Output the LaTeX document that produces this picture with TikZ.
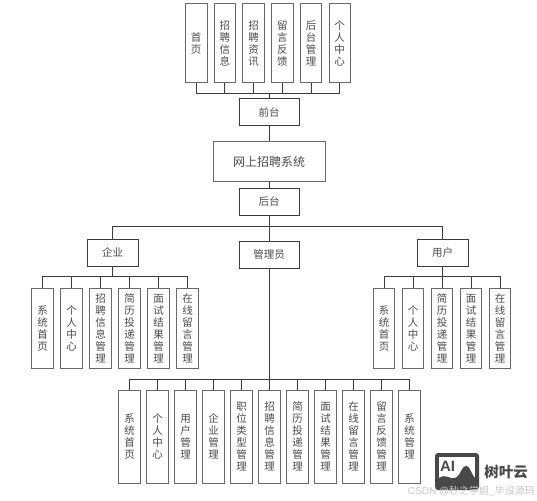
\documentclass[tikz,border=0pt]{standalone}
\usepackage{fontspec}
\setmainfont{Noto Sans CJK SC}
\setsansfont{Liberation Sans}
\usetikzlibrary{positioning}
\definecolor{boxline}{RGB}{105,105,105}
\definecolor{headline}{RGB}{60,60,60}
\definecolor{ink}{RGB}{75,75,75}
\definecolor{logo}{RGB}{72,72,72}

\tikzset{
  tallbox/.style={draw=boxline, line width=0.9pt, inner sep=0pt, minimum width=21.5pt, align=center,
    text=ink, font=\fontsize{10.5}{12}\selectfont},
  headbox/.style={draw=headline, line width=1pt, inner sep=0pt, minimum width=60pt, minimum height=27pt,
    text=ink, font=\fontsize{10.5}{12}\selectfont},
  link/.style={draw=headline, line width=1pt}
}

\begin{document}
\begin{tikzpicture}[x=1pt, y=1pt, node distance=6.6pt]
  \useasboundingbox (0,0) rectangle (537,-500);

  % front end
  \node[headbox] (front) at (269,-112) {前台};
  \node[tallbox, minimum height=79.5pt] (f1) at (196.2,-43.2) {首\\页};
  \node[tallbox, minimum height=79.5pt, right=6.3pt of f1] (f2) {招\\聘\\信\\息};
  \node[tallbox, minimum height=79.5pt, right=6.3pt of f2] (f3) {招\\聘\\资\\讯};
  \node[tallbox, minimum height=79.5pt, right=6.3pt of f3] (f4) {留\\言\\反\\馈};
  \node[tallbox, minimum height=79.5pt, right=6.3pt of f4] (f5) {后\\台\\管\\理};
  \node[tallbox, minimum height=79.5pt, right=6.3pt of f5] (f6) {个\\人\\中\\心};

  % centre column
  \node[draw=boxline, line width=0.9pt, minimum width=112pt, minimum height=40pt, text=ink,
    font=\fontsize{12}{14}\selectfont, below=15pt of front] (system) {网上招聘系统};
  \node[headbox, below=6pt of system] (back) {后台};
  \node[headbox, below=25pt of back] (admin) {管理员};
  \node[headbox, minimum width=51pt] (company) at (112.5,-252.5) {企业};
  \node[headbox, minimum width=51pt] (user) at (442.5,-252.5) {用户};

  % company
  \node[tallbox, minimum height=79.5pt] (c1) at (42.5,-328.5) {系\\统\\首\\页};
  \node[tallbox, minimum height=79.5pt, right=of c1] (c2) {个\\人\\中\\心};
  \node[tallbox, minimum height=79.5pt, right=of c2] (c3) {招\\聘\\信\\息\\管\\理};
  \node[tallbox, minimum height=79.5pt, right=of c3] (c4) {简\\历\\投\\递\\管\\理};
  \node[tallbox, minimum height=79.5pt, right=of c4] (c5) {面\\试\\结\\果\\管\\理};
  \node[tallbox, minimum height=79.5pt, right=of c5] (c6) {在\\线\\留\\言\\管\\理};

  % user
  \node[tallbox, minimum height=79.5pt] (u1) at (384,-328.5) {系\\统\\首\\页};
  \node[tallbox, minimum height=79.5pt, right=of u1] (u2) {个\\人\\中\\心};
  \node[tallbox, minimum height=79.5pt, right=of u2] (u3) {简\\历\\投\\递\\管\\理};
  \node[tallbox, minimum height=79.5pt, right=of u3] (u4) {面\\试\\结\\果\\管\\理};
  \node[tallbox, minimum height=79.5pt, right=of u4] (u5) {在\\线\\留\\言\\管\\理};

  % admin
  \node[tallbox, minimum height=93pt] (a1) at (129.5,-436.5) {系\\统\\首\\页};
  \node[tallbox, minimum height=93pt, right=5.6pt of a1] (a2) {个\\人\\中\\心};
  \node[tallbox, minimum height=93pt, right=5.6pt of a2] (a3) {用\\户\\管\\理};
  \node[tallbox, minimum height=93pt, right=5.6pt of a3] (a4) {企\\业\\管\\理};
  \node[tallbox, minimum height=93pt, right=5.6pt of a4] (a5) {职\\位\\类\\型\\管\\理};
  \node[tallbox, minimum height=93pt, right=5.6pt of a5] (a6) {招\\聘\\信\\息\\管\\理};
  \node[tallbox, minimum height=93pt, right=5.6pt of a6] (a7) {简\\历\\投\\递\\管\\理};
  \node[tallbox, minimum height=93pt, right=5.6pt of a7] (a8) {面\\试\\结\\果\\管\\理};
  \node[tallbox, minimum height=93pt, right=5.6pt of a8] (a9) {在\\线\\留\\言\\管\\理};
  \node[tallbox, minimum height=93pt, right=5.6pt of a9] (a10) {留\\言\\反\\馈\\管\\理};
  \node[tallbox, minimum height=93pt, right=5.6pt of a10] (a11) {系\\统\\管\\理};

  % connectors
  \foreach \i in {1,...,6}
    \draw[link] (f\i.south) -- ++(0,-10) -| (front.north);
  \draw[link] (front) -- (system);
  \draw[link] (system) -- (back);
  \draw[link] (back) -- (admin);
  \draw[link] (back.south) -- ++(0,-10.5) -| (company.north);
  \draw[link] (back.south) -- ++(0,-10.5) -| (user.north);
  \foreach \i in {1,...,6}
    \draw[link] (c\i.north) -- ++(0,12) -| (company.south);
  \foreach \i in {1,...,5}
    \draw[link] (u\i.north) -- ++(0,12) -| (user.south);
  \foreach \i in {1,...,11}
    \draw[link] (a\i.north) -- ++(0,10.5) -| (admin.south);

  % watermark
  \node[fill=logo, rounded corners=3pt, minimum width=44pt, minimum height=37pt, inner sep=0pt] (mark) at (457,-471.5) {};
  \fill[white] (439,-457) rectangle (475,-483);
  \fill[logo] (439,-483) -- (439,-478) .. controls (446,-473) and (450,-480) .. (455,-478)
    .. controls (461,-476) and (462,-464) .. (467,-466) .. controls (471,-468) and (472,-476) .. (475,-478)
    -- (475,-483) -- cycle;
  \node[text=logo, inner sep=0pt, font=\sffamily\bfseries\fontsize{15}{15}\selectfont] (markai) at (447.5,-466) {AI};
  \node[right=5pt of mark, yshift=-1pt, text=logo, inner sep=0pt, font=\bfseries\fontsize{14.5}{14.5}\selectfont] (markname) {树叶云};
  \node[text=black!22, inner sep=0pt, font=\sffamily\fontsize{10}{10}\selectfont, anchor=east] (source) at (535,-491) {CSDN @{\rmfamily 秒之学姐\_毕设源码}};
\end{tikzpicture}
\end{document}
